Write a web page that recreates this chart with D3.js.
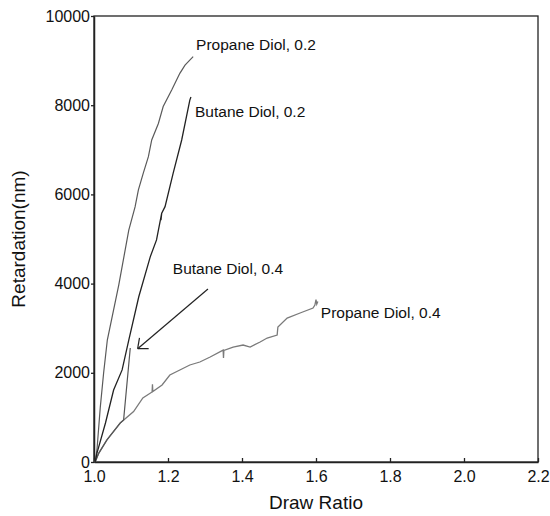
<!DOCTYPE html>
<html>
<head>
<meta charset="utf-8">
<title>retardation</title>
<script src="https://cdn.jsdelivr.net/npm/d3@7"></script>
<style>
  body { margin: 0; background: #fff; }
  text { font-family: "Liberation Sans", Arial, sans-serif; fill: #111; }
</style>
</head>
<body>
<script>
// draw ratio vs retardation (nm)
const xTicks = [1.0, 1.2, 1.4, 1.6, 1.8, 2.0, 2.2];
const yTicks = [0, 2000, 4000, 6000, 8000, 10000];

const propane02 = [
  [1.003, 0], [1.008, 270], [1.017, 1230], [1.026, 1995], [1.036, 2735],
  [1.067, 3970], [1.094, 5200], [1.111, 5720], [1.120, 6100], [1.133, 6470],
  [1.147, 6845], [1.156, 7220], [1.174, 7590], [1.187, 7970], [1.210, 8340],
  [1.232, 8715], [1.246, 8900], [1.268, 9090]
];
const butane02 = [
  [1.003, 0], [1.008, 200], [1.031, 875], [1.053, 1615], [1.076, 2065],
  [1.094, 2735], [1.121, 3705], [1.152, 4600], [1.169, 4980], [1.183, 5580],
  [1.181, 5420], [1.183, 5580], [1.192, 5725], [1.214, 6475], [1.237, 7220],
  [1.259, 8115], [1.262, 8185]
];
const butane04 = [
  [1.003, 0], [1.013, 200], [1.035, 495], [1.071, 875], [1.080, 940],
  [1.098, 2555]
];
const propane04 = [
  [1.003, 0], [1.013, 200], [1.035, 495], [1.071, 875], [1.107, 1130],
  [1.132, 1435], [1.157, 1570], [1.158, 1740], [1.159, 1580],
  [1.184, 1726], [1.205, 1950], [1.232, 2063], [1.259, 2175], [1.286, 2242],
  [1.314, 2354], [1.349, 2510], [1.350, 2330], [1.351, 2500], [1.376, 2578],
  [1.403, 2623], [1.422, 2578], [1.449, 2690], [1.468, 2780], [1.495, 2847],
  [1.497, 3027], [1.522, 3228], [1.557, 3341], [1.592, 3453], [1.597, 3520],
  [1.600, 3640], [1.602, 3540], [1.605, 3600]
];

const labels = [
  { text: "Propane Diol, 0.2", x: 1.276, y: 9350 },
  { text: "Butane Diol, 0.2", x: 1.273, y: 7850 },
  { text: "Butane Diol, 0.4", x: 1.213, y: 4330 },
  { text: "Propane Diol, 0.4", x: 1.613, y: 3360 }
];
const arrowFrom = [1.308, 3880];
const arrowTo = [1.118, 2540];

const margin = { top: 16, right: 12, bottom: 54, left: 94 };
const W = 550, H = 516;
const w = W - margin.left - margin.right;
const h = H - margin.top - margin.bottom;

const svg = d3.select("body").append("svg")
  .attr("width", W).attr("height", H);
const g = svg.append("g")
  .attr("transform", "translate(" + margin.left + "," + margin.top + ")");

const x = d3.scaleLinear().domain([1.0, 2.2]).range([0, w]);
const y = d3.scaleLinear().domain([0, 10000]).range([h, 0]);

// frame
g.append("rect")
  .attr("x", 0).attr("y", 0).attr("width", w).attr("height", h)
  .attr("fill", "none").attr("stroke", "#222").attr("stroke-width", 1.3);

const xAxis = d3.axisBottom(x).tickValues(xTicks)
  .tickFormat(d3.format(".1f")).tickSizeInner(-4).tickSizeOuter(0).tickPadding(9);
g.append("g").attr("transform", "translate(0," + h + ")").call(xAxis)
  .call(a => a.select(".domain").attr("stroke", "#222").attr("stroke-width", 1.5))
  .call(a => a.selectAll("line").attr("stroke", "#222").attr("stroke-width", 1.3))
  .call(a => a.selectAll("text").attr("font-size", 16).attr("fill", "#111")
    .attr("font-family", "Liberation Sans, Arial, sans-serif"));

const yAxis = d3.axisLeft(y).tickValues(yTicks)
  .tickFormat(d3.format("d")).tickSizeInner(3).tickSizeOuter(0).tickPadding(1);
g.append("g").call(yAxis)
  .call(a => a.select(".domain").attr("stroke", "#222").attr("stroke-width", 1.5))
  .call(a => a.selectAll("line").attr("stroke", "#222").attr("stroke-width", 1.3))
  .call(a => a.selectAll("text").attr("font-size", 16).attr("fill", "#111")
    .attr("font-family", "Liberation Sans, Arial, sans-serif"));

// axis titles
svg.append("text")
  .attr("x", margin.left + w / 2).attr("y", 509)
  .attr("text-anchor", "middle").attr("font-size", 19)
  .text("Draw Ratio");
svg.append("text")
  .attr("transform", "translate(25," + (margin.top + h / 2) + ") rotate(-90)")
  .attr("text-anchor", "middle").attr("font-size", 19)
  .text("Retardation(nm)");

const line = d3.line().x(d => x(d[0])).y(d => y(d[1]));

const series = [
  { data: propane04, color: "#7a7a7a", width: 1.3 },
  { data: butane04, color: "#555", width: 1.2 },
  { data: propane02, color: "#5a5a5a", width: 1.2 },
  { data: butane02, color: "#222", width: 1.3 }
];
g.selectAll("path.curve").data(series).enter().append("path")
  .attr("class", "curve")
  .attr("d", d => line(d.data))
  .attr("fill", "none")
  .attr("stroke", d => d.color)
  .attr("stroke-width", d => d.width);

// arrow for Butane Diol, 0.4
const ax0 = x(arrowFrom[0]), ay0 = y(arrowFrom[1]);
const ax1 = x(arrowTo[0]), ay1 = y(arrowTo[1]);
g.append("line")
  .attr("x1", ax0).attr("y1", ay0).attr("x2", ax1).attr("y2", ay1)
  .attr("stroke", "#222").attr("stroke-width", 1.2);
const ang = Math.atan2(ay0 - ay1, ax0 - ax1);
const headLen = 11;
[-0.7, 0.7].forEach(function (da) {
  g.append("line")
    .attr("x1", ax1).attr("y1", ay1)
    .attr("x2", ax1 + headLen * Math.cos(ang + da))
    .attr("y2", ay1 + headLen * Math.sin(ang + da))
    .attr("stroke", "#222").attr("stroke-width", 1.2);
});

// curve labels
g.selectAll("text.lbl").data(labels).enter().append("text")
  .attr("class", "lbl")
  .attr("x", d => x(d.x)).attr("y", d => y(d.y))
  .attr("dy", "0.35em")
  .attr("font-size", 15.5)
  .text(d => d.text);
</script>
</body>
</html>
